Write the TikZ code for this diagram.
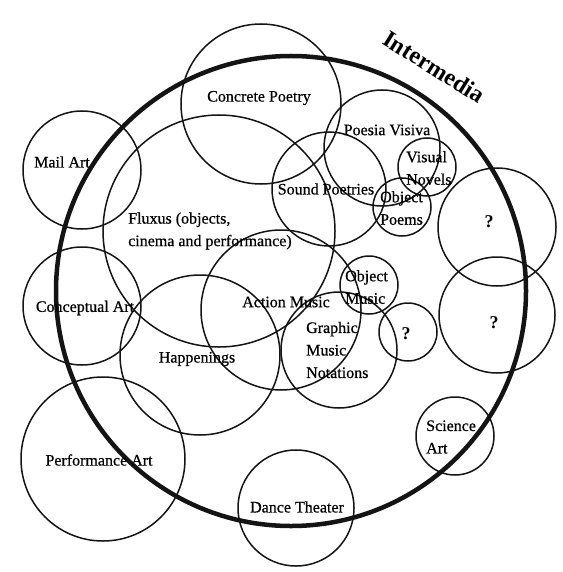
\documentclass[tikz,border=0pt]{standalone}
\usepackage{fontspec}
\setmainfont{Liberation Serif}
\newfontfamily\fieldfont{Liberation Serif}[FakeBold=0.6]
\begin{document}
\begin{tikzpicture}[x=1pt,y=-1pt,
  ring/.style={draw=black!92, line width=1.5pt},
  fieldname/.style={inner sep=0pt, align=left, font=\fieldfont\fontsize{16}{22.5}\selectfont},
  unknown/.style={inner sep=0pt, font=\fontsize{18}{20}\selectfont\bfseries}]
\useasboundingbox (0,0) rectangle (562,572);
\fill[white] (0,0) rectangle (562,572);
\draw[ring, line width=4.5pt] (291,291) circle[radius=235];
\draw[ring] (261,104) circle[radius=80];
\draw[ring] (219,231) circle[radius=116];
\draw[ring] (82,170) circle[radius=59];
\draw[ring] (82,306) circle[radius=59];
\draw[ring] (200,355) circle[radius=80];
\draw[ring] (103,459) circle[radius=82];
\draw[ring] (296,508) circle[radius=58];
\draw[ring] (455,436) circle[radius=39];
\draw[ring] (497,315) circle[radius=58];
\draw[ring] (497,227) circle[radius=59];
\draw[ring] (408,332) circle[radius=29];
\draw[ring] (369,285) circle[radius=29];
\draw[ring] (339,350) circle[radius=58];
\draw[ring] (281,310) circle[radius=80];
\draw[ring] (329,189) circle[radius=57];
\draw[ring] (382,148) circle[radius=58];
\draw[ring] (427,167) circle[radius=29];
\draw[ring] (402,207) circle[radius=29];
\node[inner sep=0pt, rotate=-32, font=\fontsize{24}{24}\selectfont\bfseries] (intermedia) at (434,67) {Intermedia};
\node[fieldname] (concrete) at (259,98) {Concrete Poetry};
\node[fieldname] (mail) at (62,162) {Mail Art};
\node[fieldname, anchor=west] (fluxus) at (128,231) {Fluxus (objects,\\cinema and performance)};
\node[fieldname] (poesia) at (387,130) {Poesia Visiva};
\node[fieldname, anchor=west] (visual) at (406,168) {Visual\\Novels};
\node[fieldname] (sound) at (326,189) {Sound Poetries};
\node[fieldname, anchor=west] (objpoems) at (380,208) {Object\\Poems};
\node[unknown] (qup) at (489,222) {?};
\node[unknown] (qlow) at (494,323) {?};
\node[unknown] (qsmall) at (406,334) {?};
\node[fieldname, anchor=west] (objmusic) at (345,287) {Object\\Music};
\node[fieldname] (action) at (286,302) {Action Music};
\node[fieldname, anchor=west] (graphic) at (306,350) {Graphic\\Music\\Notations};
\node[fieldname] (concept) at (85,308) {Conceptual Art};
\node[fieldname] (happen) at (197,359) {Happenings};
\node[fieldname] (perform) at (99,460) {Performance Art};
\node[fieldname] (dance) at (297,507) {Dance Theater};
\node[fieldname, anchor=west] (science) at (426,437) {Science\\Art};
\end{tikzpicture}
\end{document}
